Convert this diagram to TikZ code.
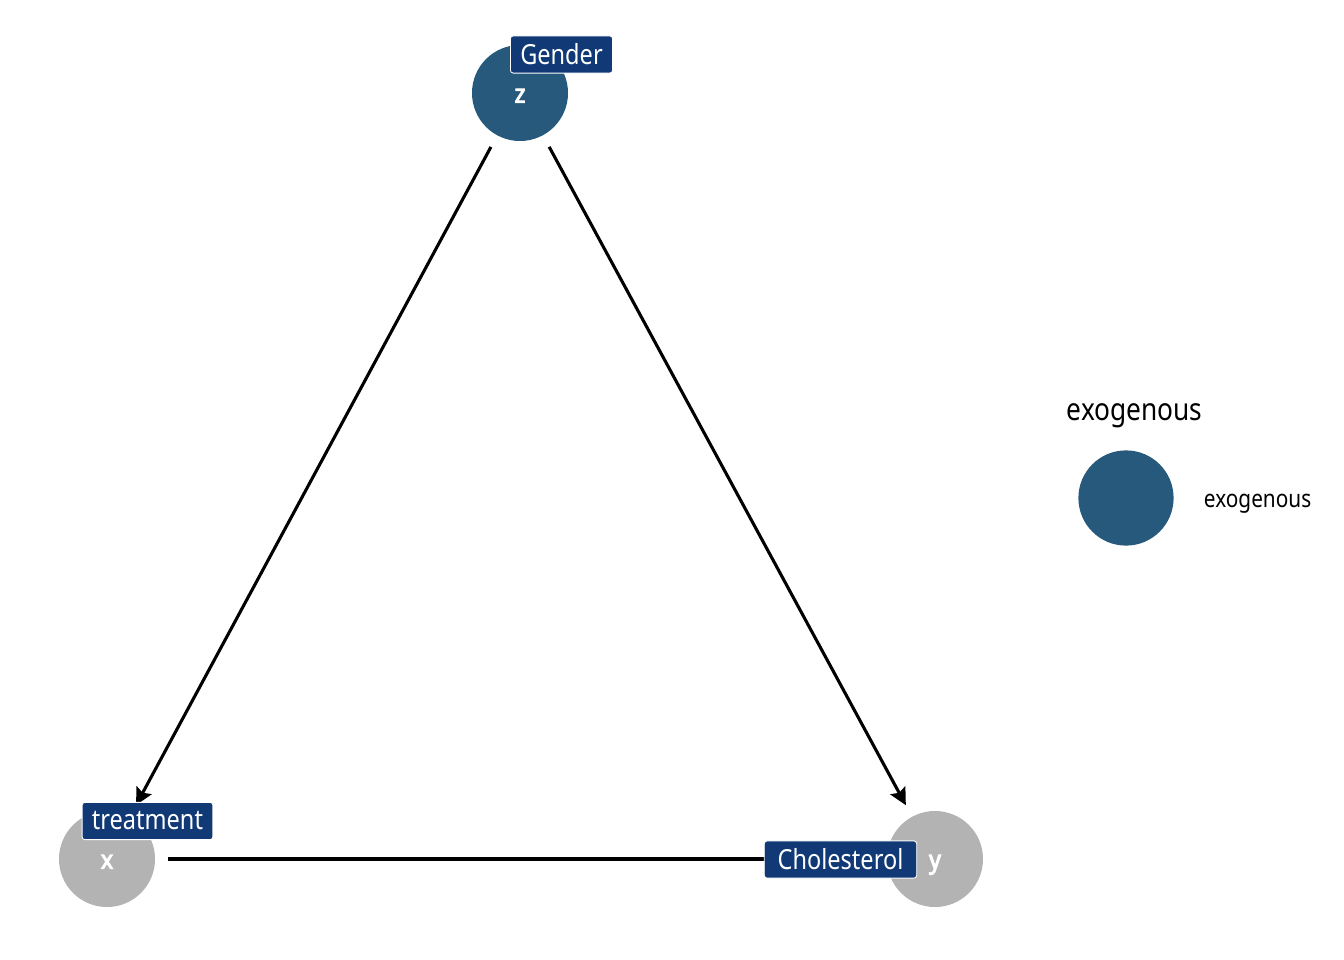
\documentclass[tikz,border=0pt]{standalone}
\usepackage{fontspec}
\setmainfont{Noto Sans}[FakeStretch=0.85]
\newfontfamily\varfont{Noto Sans}[FakeStretch=0.9, FakeBold=4]
\definecolor{exoBlue}{RGB}{38, 89, 124}
\definecolor{latentGray}{RGB}{179, 179, 179}
\definecolor{labelNavy}{RGB}{16, 57, 118}
\usepackage{tikz}
\usetikzlibrary{arrows.meta}

\begin{document}
\begin{tikzpicture}[x=0.025cm, y=-0.025cm,
    var/.style={circle, minimum size=2.4cm, inner sep=0pt, outer sep=0.33cm,
        text=white, text height=13.6pt, text depth=0pt,
        font=\varfont\fontsize{18}{18}\selectfont},
    edge/.style={line width=2.2pt, -{Stealth[length=12pt, width=12pt, inset=2pt]}},
    lbl/.style={fill=labelNavy, draw=white, line width=0.6pt, rounded corners=2pt,
        text=white, inner xsep=7pt, inner ysep=0pt, minimum height=0.93cm,
        font=\fontsize{19.7}{20}\selectfont}]
    \useasboundingbox (0,0) rectangle (1344,960);

    % Variables
    \node[var, fill=exoBlue] (z) at (520,93) {z};
    \node[var, fill=latentGray] (x) at (107,859) {x};
    \node[var, fill=latentGray] (y) at (935,859) {y};

    % Edges
    \draw[edge] (z) -- (x);
    \draw[edge] (z) -- (y);
    \draw[edge] (x) -- (y);

    % Variable labels
    \node[lbl] (zlabel) at ([shift={(41.5,-38.5)}]z.center) {Gender};
    \node[lbl] (xlabel) at ([shift={(40.5,-38)}]x.center) {treatment};
    \node[lbl, inner xsep=9.5pt] (ylabel) at ([shift={(-94.5,0.5)}]y.center) {Cholesterol};

    % Legend
    \node[font=\fontsize{22}{22}\selectfont, anchor=west] (legtitle) at (1062,416) {exogenous};
    \node[circle, fill=exoBlue, minimum size=2.38cm, inner sep=0pt] (legkey) at (1126,498) {};
    \node[font=\fontsize{17.4}{18}\selectfont, anchor=west] (legtext) at (1199,504) {exogenous};
\end{tikzpicture}
\end{document}
